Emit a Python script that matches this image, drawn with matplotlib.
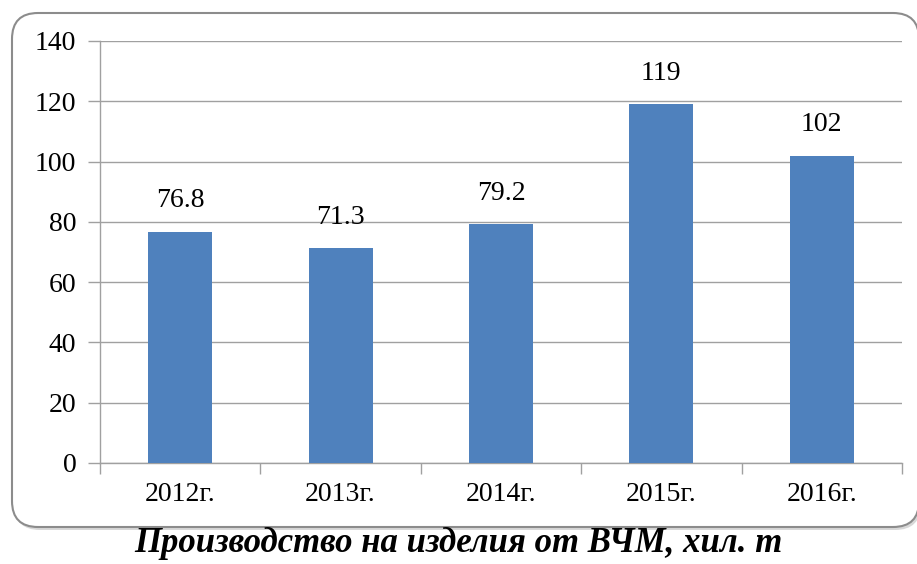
import numpy as np
import matplotlib
matplotlib.use("Agg")
import matplotlib.pyplot as plt
from matplotlib.patches import FancyBboxPatch

years = ["2012г.", "2013г.", "2014г.", "2015г.", "2016г."]
values = [76.8, 71.3, 79.2, 119, 102]
labels = ["76.8", "71.3", "79.2", "119", "102"]
yticks = [0, 20, 40, 60, 80, 100, 120, 140]
title = "Производство на изделия от ВЧМ, хил. т"

plt.rcParams["font.family"] = ["Liberation Serif", "DejaVu Serif"]

W, H = 917, 564
fig = plt.figure(figsize=(W / 100, H / 100), dpi=100)

# background axes in pixel units for the rounded frame
bg = fig.add_axes([0, 0, 1, 1])
bg.set_xlim(0, W)
bg.set_ylim(H, 0)
bg.axis("off")
bg.add_patch(FancyBboxPatch((14, 15), 907, 515,
                            boxstyle="round,pad=0,rounding_size=26",
                            facecolor="#d8d8d8", edgecolor="none", zorder=0))
bg.add_patch(FancyBboxPatch((12, 13), 907, 514,
                            boxstyle="round,pad=0,rounding_size=26",
                            facecolor="white", edgecolor="#8c8c8c",
                            linewidth=1.5, zorder=1))

ax = fig.add_axes([100 / W, 1 - 463 / H, 802 / W, 422 / H])
ax.patch.set_alpha(0)

x = np.arange(len(years))
ax.bar(x, values, width=0.4, color="#4f81bd", zorder=3)
for xi, v, lab in zip(x, values, labels):
    ax.text(xi, v + 6, lab, ha="center", va="bottom", fontsize=20)

ax.set_xlim(-0.5, len(years) - 0.5)
ax.set_ylim(0, 140)
ax.set_yticks(yticks)
ax.set_yticklabels([str(t) for t in yticks], fontsize=20)
ax.yaxis.grid(True, color="#a0a0a0", linewidth=1)
ax.set_axisbelow(True)

ax.set_xticks(x)
ax.set_xticklabels(years, fontsize=20)
ax.tick_params(axis="x", length=0, pad=14)
ax.set_xticks(np.arange(-0.5, len(years)), minor=True)
ax.tick_params(axis="x", which="minor", length=8, color="#a0a0a0", width=1)
ax.tick_params(axis="y", length=9, color="#a0a0a0", width=1, pad=8)

for s in ["top", "right"]:
    ax.spines[s].set_visible(False)
for s in ["left", "bottom"]:
    ax.spines[s].set_color("#a0a0a0")
    ax.spines[s].set_linewidth(1)

fig.text(458 / W, 1 - 543 / H, title, ha="center", va="center",
         fontsize=25, fontweight="bold", fontstyle="italic")

fig.savefig("out.png", dpi=100)
